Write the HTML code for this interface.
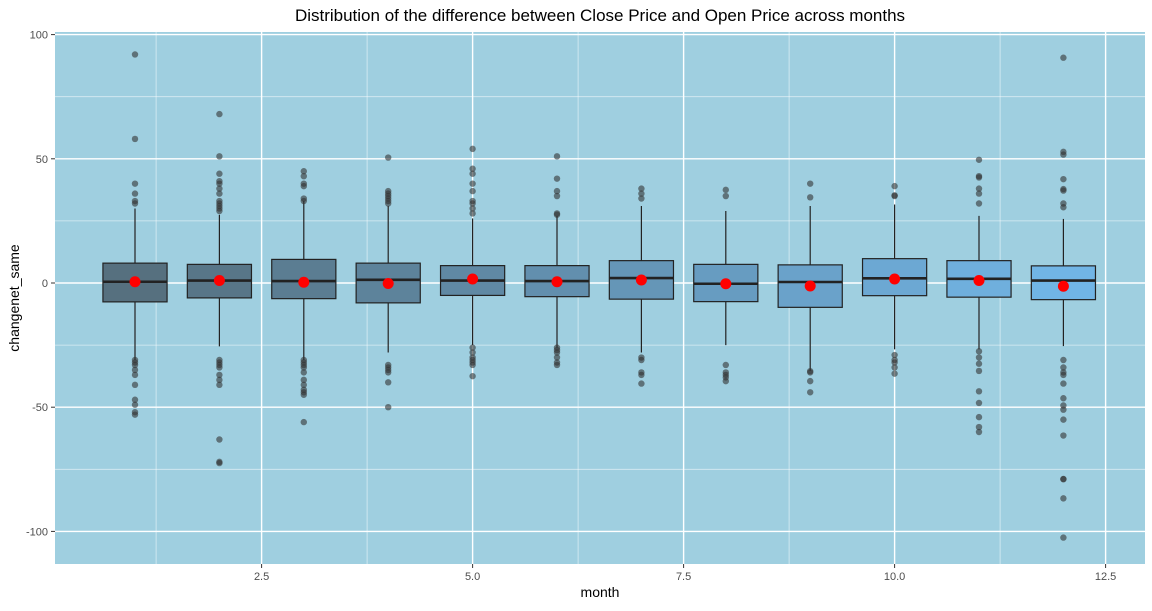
<!DOCTYPE html>
<html><head><meta charset="utf-8"><style>
body{margin:0;background:#fff;font-family:"Liberation Sans",sans-serif}
</style></head><body>
<svg id="chart" width="1152" height="606" xmlns="http://www.w3.org/2000/svg">
<text x="600" y="21" text-anchor="middle" font-size="17" fill="#000">Distribution of the difference between Close Price and Open Price across months</text>
<rect x="55" y="32" width="1090" height="532" fill="#9fcfe0"/>
<g id="grid"></g><g id="marks"></g><g id="axes"></g>
<text x="600" y="597" text-anchor="middle" font-size="14">month</text>
<text transform="translate(19,298) rotate(-90)" text-anchor="middle" font-size="14">changenet_same</text>
</svg>
<script>
const months=[1,2,3,4,5,6,7,8,9,10,11,12];
const q1=[-7.6,-6,-6.3,-8,-5,-5.5,-6.5,-7.5,-9.8,-5.1,-5.7,-6.7];
const q3=[8,7.5,9.5,8,7,7,9,7.5,7.3,9.8,9,6.9];
const medians=[0.5,1,0.8,1.3,1,0.8,2,-0.3,0.4,1.9,1.7,1];
const means=[0.5,1,0.3,-0.2,1.6,0.5,1.2,-0.3,-1.2,1.6,1,-1.3];
const whiskerHi=[30,27.5,33,31,26,27,31,29,31,31.6,27,25.8];
const whiskerLo=[-31,-25.5,-31,-28,-25,-26,-28,-25,-35.4,-26.7,-26.7,-25.4];
const outliers=[
[92,58,40,36,33,32,-31,-32,-33,-35,-37,-41,-47,-49,-52,-53],
[68,51,44,41,40,38,36,33,32,31,30,29,-31,-32,-33,-34,-37,-39,-41,-63,-72,-72.5],
[45,43,40,39,34,33,-31,-32,-33,-34,-36,-39,-41,-43,-44,-45,-56],
[50.5,37,36,35,34,33,32,-33,-34,-35,-36,-40,-50],
[54,46,44,40,37,33,32,30,28,-26,-28,-30,-31,-32,-33,-37.5],
[51,42,37,35,28,27.5,-26,-27,-28,-30,-32,-33],
[38,36,34,-30,-31,-36,-37,-40.5],
[37.5,35,-33,-36,-37,-38,-39.5],
[40,34.5,-35.5,-36,-39.5,-44],
[39,35,35.3,-29,-31,-32,-34,-36.5],
[49.6,43,42.5,38,36,32,-27.5,-30,-32.5,-35.4,-43.6,-48.3,-54,-58,-60],
[90.7,52.8,51.7,41.8,37.8,37.2,32,30.5,-31,-34,-36,-37,-40.5,-46.4,-49.3,-51,-55,-61.4,-78.9,-79,-86.7,-102.5]];
const xTicks=[2.5,5,7.5,10,12.5];
const xTickLabels=["2.5","5.0","7.5","10.0","12.5"];
const yTicks=[-100,-50,0,50,100];
const NS="http://www.w3.org/2000/svg";
const X=v=>135+(v-1)*84.4, Y=v=>283-v*2.484;
function mk(p,t,a){const e=document.createElementNS(NS,t);for(const k in a)e.setAttribute(k,a[k]);document.getElementById(p).appendChild(e);return e;}
// grid
for(let i=0;i<xTicks.length;i++){let l=mk('grid','line',{x1:X(xTicks[i]),x2:X(xTicks[i]),y1:32,y2:564,stroke:'#fff','stroke-width':1.4});

let m=mk('grid','line',{x1:X(xTicks[i]-1.25),x2:X(xTicks[i]-1.25),y1:32,y2:564,stroke:'#fff','stroke-opacity':0.6,'stroke-width':0.8});

let t=mk('axes','line',{x1:X(xTicks[i]),x2:X(xTicks[i]),y1:564,y2:568,stroke:'#333'});

let tx=mk('axes','text',{x:X(xTicks[i]),y:580,'text-anchor':'middle','font-size':11,fill:'#4d4d4d'});tx.textContent=xTickLabels[i];
}
for(let i=0;i<yTicks.length;i++){let l=mk('grid','line',{x1:55,x2:1145,y1:Y(yTicks[i]),y2:Y(yTicks[i]),stroke:'#fff','stroke-width':1.4});

if(i<yTicks.length-1){let m=mk('grid','line',{x1:55,x2:1145,y1:Y(yTicks[i]+25),y2:Y(yTicks[i]+25),stroke:'#fff','stroke-opacity':0.6,'stroke-width':0.8});
}
let t=mk('axes','line',{x1:51,x2:55,y1:Y(yTicks[i]),y2:Y(yTicks[i]),stroke:'#333'});

let tx=mk('axes','text',{x:48,y:Y(yTicks[i])+4,'text-anchor':'end','font-size':11,fill:'#4d4d4d'});tx.textContent=yTicks[i];
}
// boxes
const c0=[0x56,0x70,0x7f],c1=[0x71,0xb5,0xe6];
for(let i=0;i<months.length;i++){const x=X(months[i]),hw=0.38*84.4,f=i/11;
const col='rgb('+c0.map((c,k)=>Math.round(c+(c1[k]-c)*f)).join(',')+')';
let w=mk('marks','line',{x1:x,x2:x,y1:Y(whiskerHi[i]),y2:Y(whiskerLo[i]),stroke:'#222','stroke-width':1.2});

let b=mk('marks','rect',{x:x-hw,y:Y(q3[i]),width:2*hw,height:Y(q1[i])-Y(q3[i]),fill:col,stroke:'#222','stroke-width':1.2});

let md=mk('marks','line',{x1:x-hw,x2:x+hw,y1:Y(medians[i]),y2:Y(medians[i]),stroke:'#222','stroke-width':2.6});

for(const o of outliers[i]){let c=mk('marks','circle',{cx:x,cy:Y(o),r:3.2,fill:'#333','fill-opacity':0.6});
}
let mn=mk('marks','circle',{cx:x,cy:Y(means[i]),r:5.5,fill:'#ff0000'});
}
</script>
</body></html>
